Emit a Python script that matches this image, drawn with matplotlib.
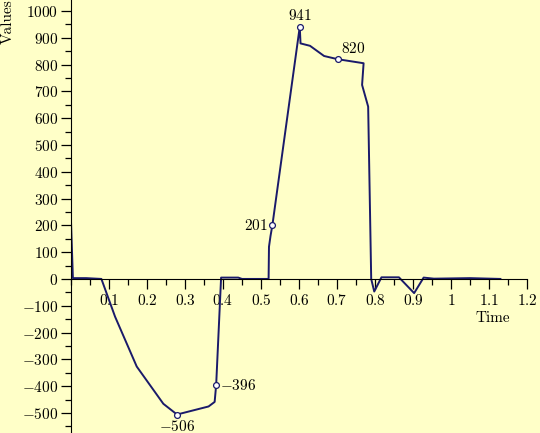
import matplotlib
matplotlib.use('Agg')
import matplotlib.pyplot as plt
from matplotlib.ticker import MultipleLocator

# ── Data ───────────────────────────────────────────────────
t_vals = [0.000, 0.005, 0.040, 0.080, 0.116, 0.173, 0.243, 0.279, 0.362, 0.378,
          0.382, 0.395, 0.440, 0.450, 0.520, 0.521, 0.525, 0.530, 0.602, 0.604,
          0.629, 0.666, 0.702, 0.770, 0.766, 0.782, 0.790, 0.798, 0.817, 0.863,
          0.903, 0.928, 0.955, 1.050, 1.130]
v_vals = [215, 3, 3, 0, -141, -327, -466, -506, -476, -459,
          -396, 5, 5, 0, 0, 120, 160, 201, 941, 879,
          870, 832, 820, 805, 724, 643, 0, -47, 6, 6,
          -53, 5, 1, 3, 0]

mark_t = [0.279, 0.382, 0.530, 0.602, 0.702]
mark_v = [-506, -396, 201, 941, 820]
mark_txt = ['$-506$', '$-396$', '$201$', '$941$', '$820$']
mark_off = [(0, -3), (3, 0), (-3, 0), (0, 3), (2, 2)]
mark_ha = ['center', 'left', 'right', 'center', 'left']
mark_va = ['top', 'center', 'center', 'bottom', 'bottom']

BG = '#ffffc8'
LINE = '#1a1a6a'
FS = 11

plt.rcParams['font.family'] = 'serif'
plt.rcParams['font.serif'] = ['cmr10', 'DejaVu Serif']
plt.rcParams['mathtext.fontset'] = 'cm'
plt.rcParams['axes.formatter.use_mathtext'] = True

fig = plt.figure(figsize=(5.4, 4.33), dpi=100, facecolor=BG)
ax = fig.add_axes([71/540, 0.0, 456/540, 1.0])
ax.set_facecolor(BG)

ax.plot(t_vals, v_vals, color=LINE, lw=1.4)
ax.plot(mark_t, mark_v, ls='none', marker='o', ms=4.2,
        mfc='white', mec=LINE, mew=0.9)
for x, y, s, off, ha, va in zip(mark_t, mark_v, mark_txt, mark_off, mark_ha, mark_va):
    ax.annotate(s, (x, y), xytext=off, textcoords='offset points',
                ha=ha, va=va, fontsize=FS)

ax.set_xlim(0, 1.2)
ax.set_ylim(-575, 1041)
ax.spines['left'].set_position(('data', 0))
ax.spines['bottom'].set_position(('data', 0))
ax.spines['top'].set_visible(False)
ax.spines['right'].set_visible(False)

ax.xaxis.set_minor_locator(MultipleLocator(0.05))
ax.yaxis.set_major_locator(MultipleLocator(100))
ax.yaxis.set_minor_locator(MultipleLocator(50))
ax.set_xticks([0.1, 0.2, 0.3, 0.4, 0.5, 0.6, 0.7, 0.8, 0.9, 1.0, 1.1, 1.2])
ax.set_xticklabels(['$0.1$', '$0.2$', '$0.3$', '$0.4$', '$0.5$', '$0.6$',
                    '$0.7$', '$0.8$', '$0.9$', '$1$', '$1.1$', '$1.2$'])
ax.tick_params(which='major', length=7, width=0.9, labelsize=FS)
ax.tick_params(which='minor', length=4, width=0.9)
ax.tick_params(axis='x', which='major', pad=3)
ax.tick_params(axis='y', which='major', pad=2)

fig.text(0.015, 0.95, 'Values', rotation=90, ha='center', va='center', fontsize=FS)
fig.text(0.913, 0.266, 'Time', ha='center', va='center', fontsize=FS)

fig.savefig('out.png', dpi=100, facecolor=BG)
